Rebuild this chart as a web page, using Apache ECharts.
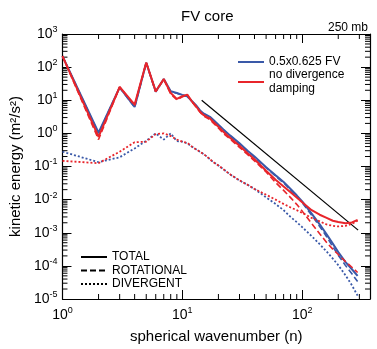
<!DOCTYPE html>
<html>
<head>
<meta charset="utf-8">
<script src="https://cdn.jsdelivr.net/npm/echarts@6/dist/echarts.min.js"></script>
<style>
  html, body { margin: 0; padding: 0; background: #fff; }
  #chart { width: 377px; height: 349px; }
</style>
</head>
<body>
<div id="chart"></div>
<script>
// spherical wavenumber
const wavenumber = [1, 2, 3, 4, 5, 6, 7, 8, 9, 10, 11, 12, 13, 14, 15, 16, 17, 18, 20, 22, 25, 30, 35, 40,
    50, 60, 70, 80, 90, 100, 120, 140, 160, 180, 200, 230, 260, 290];

// 0.5x0.625 FV
const blueTotal = [214, 1.05, 24.5, 6.3, 135, 18.2, 43.7, 18.6, 16.6, 14.5, 13.2, 9.5, 7.1, 5.0, 4.0, 3.55, 3.16, 2.63, 1.82, 1.32, 0.87, 0.50, 0.30, 0.20,
    0.095, 0.054, 0.034, 0.021, 0.0135, 0.0089, 0.0038, 0.0018, 8.9e-4, 4.7e-4, 2.6e-4, 1.3e-4, 7.9e-5, 5.0e-5];
const blueRot = [213, 1.0, 24.3, 6.1, 134, 18, 43, 18, 16.3, 14.2, 13.0, 9.3, 6.9, 4.9, 3.9, 3.45, 3.08, 2.56, 1.77, 1.28, 0.84, 0.48, 0.29, 0.19,
    0.093, 0.051, 0.032, 0.0195, 0.0126, 0.0081, 0.0034, 0.00155, 7.6e-4, 3.8e-4, 2.1e-4, 1.02e-4, 5.75e-5, 3.4e-5];
const blueDiv = [0.28, 0.135, 0.19, 0.35, 0.60, 1.0, 0.65, 1.0, 0.58, 0.56, 0.50, 0.40, 0.33, 0.28, 0.24, 0.20, 0.166, 0.138, 0.107, 0.083, 0.058, 0.038, 0.028, 0.021,
    0.0117, 0.0074, 0.0048, 0.0030, 0.0021, 0.00148, 7.9e-4, 4.5e-4, 2.7e-4, 1.66e-4, 1.05e-4, 5.2e-5, 2.6e-5, 1.26e-5];

// no divergence damping
const redTotal = [214, 0.79, 25.1, 7.4, 138, 18.6, 43.7, 16.6, 11.0, 13.2, 14.8, 9.3, 6.6, 4.6, 3.6, 3.16, 2.82, 2.29, 1.58, 1.12, 0.74, 0.42, 0.25, 0.166,
    0.074, 0.040, 0.025, 0.0166, 0.0115, 0.0083, 0.0048, 0.0035, 0.0028, 0.0023, 0.0021, 0.00195, 0.00204, 0.00245];
const redRot = [214, 0.65, 25, 7.0, 137, 18.2, 42.5, 15.5, 10.3, 12.7, 14.5, 9.0, 6.3, 4.4, 3.4, 2.95, 2.6, 2.1, 1.45, 1.0, 0.68, 0.38, 0.23, 0.148,
    0.068, 0.033, 0.019, 0.0115, 0.0072, 0.0045, 0.0019, 9.3e-4, 5.1e-4, 3.2e-4, 2.2e-4, 1.35e-4, 9.1e-5, 6.3e-5];
const redDiv = [0.148, 0.126, 0.28, 0.54, 0.56, 0.95, 1.0, 0.83, 0.65, 0.56, 0.52, 0.40, 0.33, 0.28, 0.24, 0.20, 0.166, 0.138, 0.107, 0.083, 0.058, 0.038, 0.028, 0.021,
    0.0141, 0.010, 0.0074, 0.0058, 0.0048, 0.0040, 0.0028, 0.0022, 0.00178, 0.00162, 0.00155, 0.00162, 0.00186, 0.0023];

// n^-3 reference line
const refN = [14.5, 293];
const refEnergy = [10, 1.2e-3];

// minor ticks
const xMinor = [2, 3, 4, 5, 6, 7, 8, 9, 20, 30, 40, 50, 60, 70, 80, 90, 200, 300];
const yMinor = [];
[1e-5, 1e-4, 1e-3, 1e-2, 1e-1, 1, 10, 100].forEach(d => {
    [2, 3, 4, 5, 6, 7, 8, 9].forEach(m => yMinor.push(+(d * m).toPrecision(3)));
});

const blue = '#3a59a8';
const red = '#e8252b';
const font = 'Liberation Sans, Arial, sans-serif';

const pair = (ys) => wavenumber.map((n, i) => [n, ys[i]]);

const powLabel = (value) => {
    const e = Math.round(Math.log10(value));
    if (Math.abs(value - Math.pow(10, e)) / value > 1e-6) return '';
    return '{b|10}{s|' + e + '}';
};
const labelRich = {
    b: { fontSize: 14, fontFamily: font, color: '#000' },
    s: { fontSize: 9, fontFamily: font, color: '#000', padding: [0, 0, 9, 0] }
};

const minorTicks = (axis, values) => ({
    type: 'custom',
    silent: true,
    clip: false,
    data: values.map(v => axis === 'x' ? [v, 1] : [1, v]),
    renderItem: (params, api) => {
        const cs = params.coordSys;
        const p = api.coord([api.value(0), api.value(1)]);
        const style = { stroke: '#000', lineWidth: 1 };
        const len = 5;
        if (axis === 'x') {
            return {
                type: 'group', children: [
                    { type: 'line', shape: { x1: p[0], y1: cs.y + cs.height, x2: p[0], y2: cs.y + cs.height - len }, style },
                    { type: 'line', shape: { x1: p[0], y1: cs.y, x2: p[0], y2: cs.y + len }, style }
                ]
            };
        }
        return {
            type: 'group', children: [
                { type: 'line', shape: { x1: cs.x, y1: p[1], x2: cs.x + len, y2: p[1] }, style },
                { type: 'line', shape: { x1: cs.x + cs.width, y1: p[1], x2: cs.x + cs.width - len, y2: p[1] }, style }
            ]
        };
    }
});

const lineSeries = (name, data, color, type, width) => ({
    name,
    type: 'line',
    data,
    symbol: 'none',
    color,
    lineStyle: { color, width, type },
    emphasis: { disabled: true }
});

const xBase = {
    type: 'log', min: 1, max: 368, interval: 1,
    axisLine: { lineStyle: { color: '#000', width: 1.2 } },
    axisTick: { inside: true, length: 9, lineStyle: { color: '#000' } },
    splitLine: { show: false }
};
const yBase = {
    type: 'log', min: 1e-5, max: 1e3, interval: 1,
    axisLine: { lineStyle: { color: '#000', width: 1.2 } },
    axisTick: { inside: true, length: 9, lineStyle: { color: '#000' } },
    splitLine: { show: false }
};

const chart = echarts.init(document.getElementById('chart'));
chart.setOption({
    animation: false,
    backgroundColor: '#fff',
    title: [
        { text: 'FV core', left: 176, top: 4, textStyle: { fontSize: 15, fontWeight: 'normal', fontFamily: font, color: '#000' } },
        { text: '250 mb', right: 4, top: 17, textStyle: { fontSize: 12, fontWeight: 'normal', fontFamily: font, color: '#000' } }
    ],
    grid: { left: 60, right: 7, top: 34, bottom: 45 },
    legend: [
        {
            data: ['0.5x0.625 FV', 'no divergence\ndamping'],
            orient: 'vertical', left: 232, top: 50,
            itemWidth: 26, itemHeight: 10, itemGap: -1,
            itemStyle: { opacity: 0 },
            textStyle: { fontSize: 12, fontFamily: font, color: '#000', lineHeight: 14 }
        },
        {
            data: ['TOTAL', 'ROTATIONAL', 'DIVERGENT'],
            orient: 'vertical', left: 75, top: 246,
            itemWidth: 26, itemHeight: 10, itemGap: 1.5,
            itemStyle: { opacity: 0 },
            textStyle: { fontSize: 12, fontFamily: font, color: '#000' }
        }
    ],
    xAxis: [
        Object.assign({}, xBase, {
            position: 'bottom',
            name: 'spherical wavenumber (n)', nameLocation: 'middle', nameGap: 30,
            nameTextStyle: { fontSize: 15, fontFamily: font, color: '#000' },
            axisLabel: { formatter: powLabel, rich: labelRich, margin: 7, showMaxLabel: false }
        }),
        Object.assign({}, xBase, { position: 'top', axisLabel: { show: false } })
    ],
    yAxis: [
        Object.assign({}, yBase, {
            position: 'left',
            name: 'kinetic energy (m²/s²)', nameLocation: 'middle', nameGap: 39,
            nameTextStyle: { fontSize: 15, fontFamily: font, color: '#000' },
            axisLabel: { formatter: powLabel, rich: labelRich, margin: 5 }
        }),
        Object.assign({}, yBase, { position: 'right', axisLabel: { show: false } })
    ],
    series: [
        minorTicks('x', xMinor),
        minorTicks('y', yMinor),
        lineSeries('ref', refN.map((n, i) => [n, refEnergy[i]]), '#000', 'solid', 1.2),
        lineSeries('blueDiv', pair(blueDiv), blue, [2, 2], 1.8),
        lineSeries('blueRot', pair(blueRot), blue, [6, 3], 1.6),
        lineSeries('0.5x0.625 FV', pair(blueTotal), blue, 'solid', 2),
        lineSeries('redDiv', pair(redDiv), red, [2, 2], 1.8),
        lineSeries('redRot', pair(redRot), red, [6, 3], 1.6),
        lineSeries('no divergence\ndamping', pair(redTotal), red, 'solid', 2),
        lineSeries('TOTAL', [], '#000', 'solid', 1.2),
        lineSeries('ROTATIONAL', [], '#000', [6, 3], 1.2),
        lineSeries('DIVERGENT', [], '#000', [2, 2], 1.2)
    ]
});
</script>
</body>
</html>
